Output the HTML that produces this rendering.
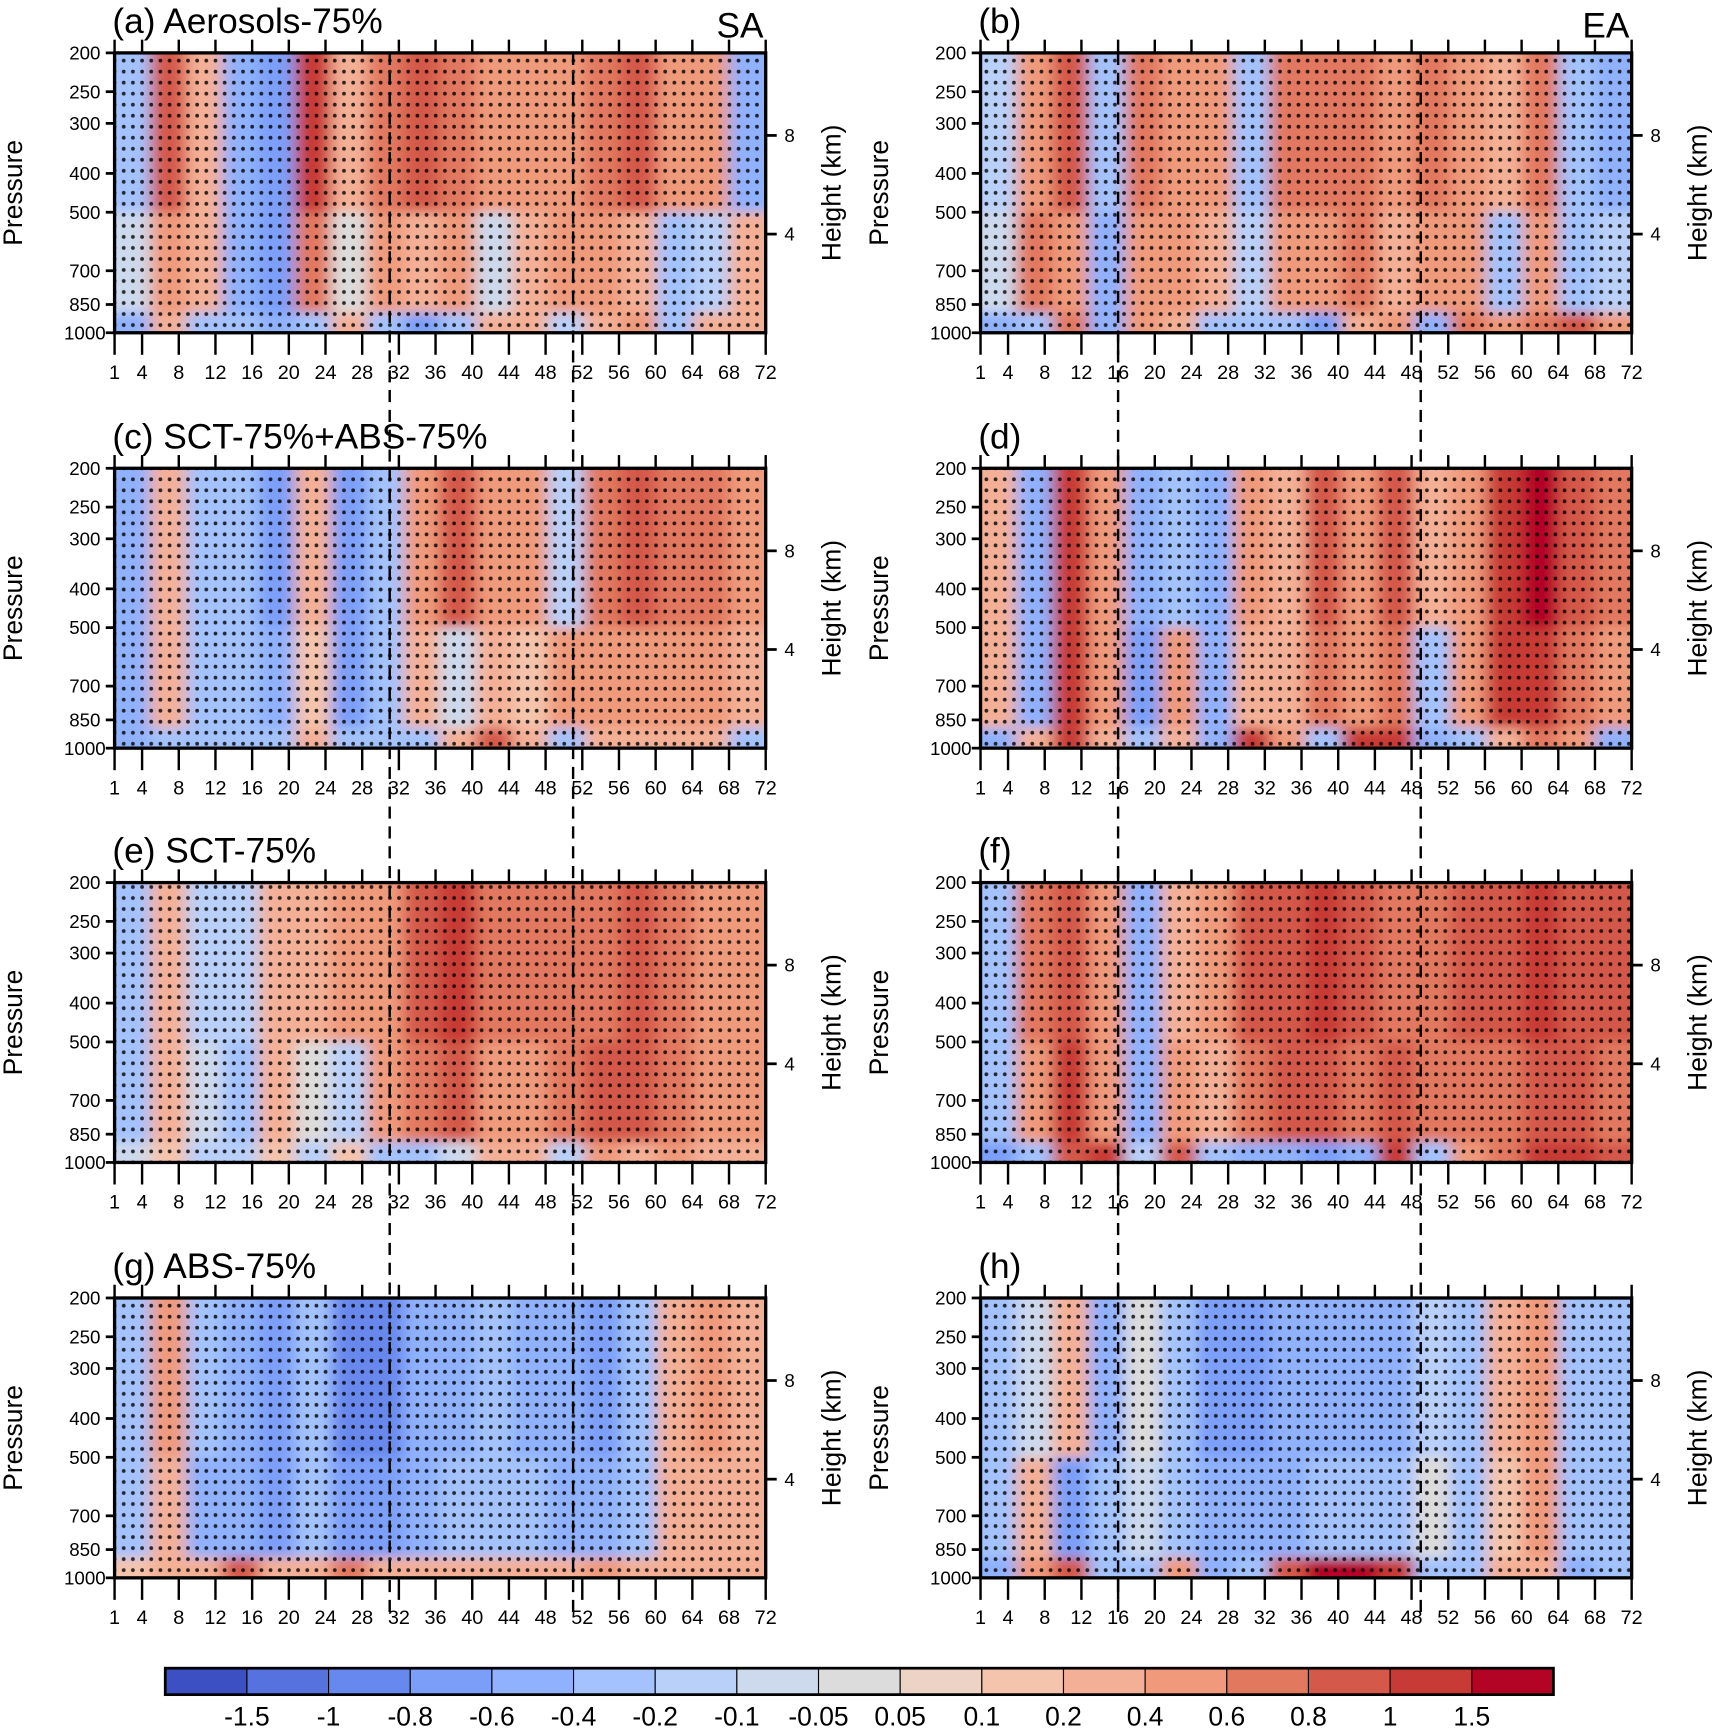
<!DOCTYPE html>
<html><head><meta charset="utf-8"><style>
html,body{margin:0;padding:0;background:#fff;}
svg{display:block;font-family:"Liberation Sans",sans-serif;}
</style></head><body>
<svg id="fig" width="1722" height="1731" viewBox="0 0 1563 1571" preserveAspectRatio="none" xmlns="http://www.w3.org/2000/svg">
<defs>
<filter id="blur" x="-2%" y="-10%" width="104%" height="120%"><feGaussianBlur stdDeviation="7 5"/></filter>
<pattern id="dots" width="8.33" height="10" patternUnits="userSpaceOnUse"><circle cx="4" cy="5" r="1.7" fill="#000"/></pattern>
</defs>
<g id="panels"></g>
<g id="dashes"></g>
<g id="cbar"></g>
</svg>
<script>
const levels = [-1.5,-1,-0.8,-0.6,-0.4,-0.2,-0.1,-0.05,0.05,0.1,0.2,0.4,0.6,0.8,1,1.5];
const levelLabels = ["-1.5","-1","-0.8","-0.6","-0.4","-0.2","-0.1","-0.05","0.05","0.1","0.2","0.4","0.6","0.8","1","1.5"];
const colors = ["#3d50c3","#5572df","#6788ee","#7b9ff9","#8fb1fe","#a3c2fe","#b9d0f9","#cdd9ec","#dddcdc","#ecd3c5","#f5c4ac","#f4b096","#f09a7b","#e2785e","#d4594a","#c83a36","#b40426"];
const days = [1,4,8,12,16,20,24,28,32,36,40,44,48,52,56,60,64,68,72];
const pressures = [200,250,300,400,500,700,850,1000];
const heights = [8,4];
const titles = ["(a) Aerosols-75%","(b)","(c) SCT-75%+ABS-75%","(d)","(e) SCT-75%","(f)","(g) ABS-75%","(h)"];
const upperA=[-0.3,0.8,0.3,-0.6,-0.8,1.0,0.2,0.6,0.8,0.6,0.5,0.4,0.4,0.6,0.8,0.4,0.5,-0.6];
const midA=[-0.1,0.4,0.3,-0.5,-0.7,0.7,0.0,0.4,0.3,0.4,-0.1,0.3,0.4,0.4,0.3,-0.3,-0.2,0.2];
const lowA=[-0.6,0.3,-0.3,-0.4,-0.6,-0.4,0.2,-0.3,-0.8,-0.4,0.2,0.2,-0.2,0.3,0.4,-0.3,0.3,0.3];
const upperB=[-0.2,0.5,0.8,-0.3,0.6,0.5,0.4,-0.3,0.6,0.7,0.6,0.4,0.6,0.5,0.3,0.6,-0.3,-0.5];
const midB=[-0.1,0.6,0.5,-0.5,0.5,0.4,0.3,-0.2,0.5,0.5,0.6,0.3,0.5,0.4,-0.3,0.5,-0.4,-0.2];
const lowB=[-0.5,-0.3,0.6,-0.6,0.4,0.3,-0.3,-0.4,-0.3,-0.8,0.3,0.4,-0.5,0.6,0.5,0.6,0.8,0.4];
const upperC=[-0.6,0.3,-0.4,-0.3,-0.8,0.2,-0.8,-0.3,0.5,0.8,0.4,0.4,-0.2,0.6,0.8,0.6,0.7,0.5];
const midC=[-0.5,0.3,-0.3,-0.3,-0.6,0.1,-0.7,-0.3,0.3,-0.1,0.2,0.1,0.4,0.5,0.5,0.4,0.4,0.3];
const lowC=[-0.6,-0.3,-0.3,-0.4,-0.3,0.3,-0.3,-0.3,-0.4,0.2,0.8,0.3,-0.3,0.2,0.3,0.3,0.2,-0.3];
const upperD=[0.3,-0.6,1.0,0.5,-0.6,-0.3,-0.6,0.4,0.3,0.8,0.5,0.8,0.2,0.5,1.0,1.5,0.8,0.6];
const midD=[0.2,-0.6,1.2,0.4,-0.7,0.4,-0.6,0.3,0.3,0.6,0.5,0.6,-0.3,0.5,1.0,1.2,0.6,0.5];
const lowD=[-0.6,0.2,1.0,0.3,-0.3,0.3,-0.5,1.0,0.4,-0.3,1.2,1.0,-0.5,-0.4,0.3,0.6,0.5,-0.5];
const upperE=[-0.3,0.3,-0.2,-0.2,0.3,0.2,0.4,0.5,0.8,1.0,0.6,0.6,0.6,0.6,0.9,0.6,0.5,0.5];
const midE=[-0.3,0.2,-0.1,-0.3,0.2,0.0,-0.2,0.5,0.7,0.8,0.4,0.5,0.6,0.8,0.8,0.6,0.5,0.4];
const lowE=[-0.1,0.1,-0.2,-0.2,0.1,-0.2,0.1,-0.3,-0.4,-0.1,0.3,0.2,-0.2,0.4,0.3,0.5,0.3,0.2];
const upperF=[-0.3,0.6,0.8,0.5,-0.5,0.3,0.4,0.8,0.8,1.0,0.8,0.6,0.6,0.8,0.8,1.0,0.8,0.8];
const midF=[-0.3,0.4,1.0,0.5,-0.6,0.4,0.2,0.6,0.8,0.8,0.6,0.8,0.6,0.6,0.7,0.8,0.8,0.7];
const lowF=[-0.8,-0.3,0.8,1.0,-0.2,0.8,-0.3,-0.5,-0.5,-0.8,-0.5,1.0,-0.3,0.4,0.6,1.0,1.0,0.8];
const upperG=[-0.3,0.4,-0.3,-0.5,-0.8,-0.3,-1.0,-1.0,-0.6,-0.6,-0.4,-0.5,-0.6,-0.7,-0.4,0.2,0.4,0.3];
const midG=[-0.3,0.3,-0.6,-0.5,-0.7,-0.4,-0.8,-0.8,-0.5,-0.4,-0.3,-0.4,-0.5,-0.5,-0.3,0.2,0.3,0.2];
const lowG=[0.1,0.2,0.2,0.8,0.3,0.2,0.6,0.3,0.3,0.2,0.3,0.3,0.3,0.5,0.3,0.3,0.2,0.2];
const upperH=[-0.3,-0.1,0.3,-0.5,0.0,-0.3,-0.7,-0.8,-0.5,-0.5,-0.5,-0.5,-0.2,-0.4,0.2,0.4,-0.3,-0.4];
const midH=[-0.4,0.2,-0.7,-0.3,-0.1,-0.3,-0.5,-0.5,-0.5,-0.3,-0.4,-0.3,0.0,-0.3,0.1,0.4,-0.4,-0.3];
const lowH=[-0.6,0.5,0.8,-0.3,-0.3,0.5,-0.5,-0.4,0.8,1.5,1.5,1.0,-0.3,-0.3,0.3,0.2,-0.5,-0.4];
const panelData=[[upperA,midA,lowA],[upperB,midB,lowB],[upperC,midC,lowC],[upperD,midD,lowD],[upperE,midE,lowE],[upperF,midF,lowF],[upperG,midG,lowG],[upperH,midH,lowH]];
const dashDaysL=[31,51], dashDaysR=[16,49];

const NS="http://www.w3.org/2000/svg";
function mk(tag,attrs,parent){const e=document.createElementNS(NS,tag);for(const k in attrs)e.setAttribute(k,attrs[k]);parent.appendChild(e);return e;}
function colorOf(v){let i=0;while(i<levels.length&&v>=levels[i])i++;return colors[i];}
const colX=[104,890], rowY=[48,425,801,1178], W=591, H=254;
function xScale(x0,d){return x0+(d-1)/71*W;}
function yScale(y0,p){return y0+Math.log(p/200)/Math.log(5)*H;}
const bands=[[200,500],[500,890],[890,1000]];
const panels=document.getElementById('panels');
for(let i=0;i<8;i++){
  const x0=colX[i%2], y0=rowY[Math.floor(i/2)];
  const g=mk('g',{},panels);
  
  
  const cp=mk('clipPath',{id:'cp'+i},g);mk('rect',{x:x0,y:y0,width:W,height:H},cp);
  const field=mk('g',{'clip-path':'url(#cp'+i+')'},g);
  const fb=mk('g',{filter:'url(#blur)'},field);
  panelData[i].forEach((arr,b)=>{
    const ya=yScale(y0,bands[b][0]), yb=yScale(y0,bands[b][1]);
    arr.forEach((v,k)=>{
      const d0=1+k*71/18, d1=1+(k+1)*71/18;
      const r=mk('rect',{x:xScale(x0,d0)-0.5-(k==0?20:0),y:ya-(b==0?30:0),width:xScale(x0,d1)-xScale(x0,d0)+1+(k==0||k==17?20:0),height:yb-ya+(b==0||b==2?30:0),fill:colorOf(v)},fb);
      
      
    });
  });
  const st=mk('rect',{x:x0,y:y0,width:W,height:H,fill:'url(#dots)',opacity:0.8},field);
  
  
  mk('rect',{x:x0,y:y0,width:W,height:H,fill:'none',stroke:'#000','stroke-width':3},g);
  days.forEach(d=>{
    const x=xScale(x0,d);
    mk('line',{x1:x,x2:x,y1:y0+H,y2:y0+H+20,stroke:'#000','stroke-width':2.2},g);
    mk('line',{x1:x,x2:x,y1:y0,y2:y0-12,stroke:'#000','stroke-width':2.2},g);
    const t=mk('text',{x:x,y:y0+H+42,'font-size':18,'text-anchor':'middle'},g);t.textContent=d;
    
    
  });
  pressures.forEach(p=>{
    const y=yScale(y0,p);
    mk('line',{x1:x0-8,x2:x0,y1:y,y2:y,stroke:'#000','stroke-width':2.5},g);
    const t=mk('text',{x:x0-27,y:y+6,'font-size':17,'text-anchor':'middle'},g);t.textContent=p;
    
    
  });
  heights.forEach(h=>{
    const p=1000*Math.exp(-h/7.05);const y=yScale(y0,p);
    mk('line',{x1:x0+W,x2:x0+W+10,y1:y,y2:y,stroke:'#000','stroke-width':2.5},g);
    const t=mk('text',{x:x0+W+17,y:y+6,'font-size':17},g);t.textContent=h;
    
    
  });
  const yl=mk('text',{x:0,y:0,'font-size':24,'text-anchor':'middle',transform:`translate(${x0-84},${y0+H/2}) rotate(-90)`},g);yl.textContent='Pressure';
  
  
  const yr=mk('text',{x:0,y:0,'font-size':24,'text-anchor':'middle',transform:`translate(${x0+W+68},${y0+H/2}) rotate(-90)`},g);yr.textContent='Height (km)';
  
  
  const tt=mk('text',{x:x0-2,y:y0-18,'font-size':32},g);tt.textContent=titles[i];
  
  
  if(i<2){const rl=mk('text',{x:x0+W-2,y:y0-14,'font-size':32,'text-anchor':'end'},g);rl.textContent=i==0?'SA':'EA';
    
    }
}
const dg=document.getElementById('dashes');
[[colX[0],dashDaysL],[colX[1],dashDaysR]].forEach(([x0,dd])=>dd.forEach(d=>{
  const x=xScale(x0,d);
  const l=mk('line',{x1:x,x2:x,y1:48,y2:1470,stroke:'#000','stroke-width':2.2,'stroke-dasharray':'11 7'},dg);
  
  
}));
const cb=document.getElementById('cbar');


const cbx=150, cbw=(1410-150)/17, cby=1514, cbh=24;
colors.forEach((c,k)=>{
  const r=mk('rect',{x:cbx+k*cbw,y:cby,width:cbw,height:cbh,fill:c,stroke:'#000','stroke-width':1},cb);
  
  
});
mk('rect',{x:cbx,y:cby,width:cbw*17,height:cbh,fill:'none',stroke:'#000','stroke-width':2.5},cb);
levelLabels.forEach((s,k)=>{
  const t=mk('text',{x:cbx+(k+1)*cbw,y:1566,'font-size':24,'text-anchor':'middle'},cb);t.textContent=s;
  
  
});
</script>
</body></html>
